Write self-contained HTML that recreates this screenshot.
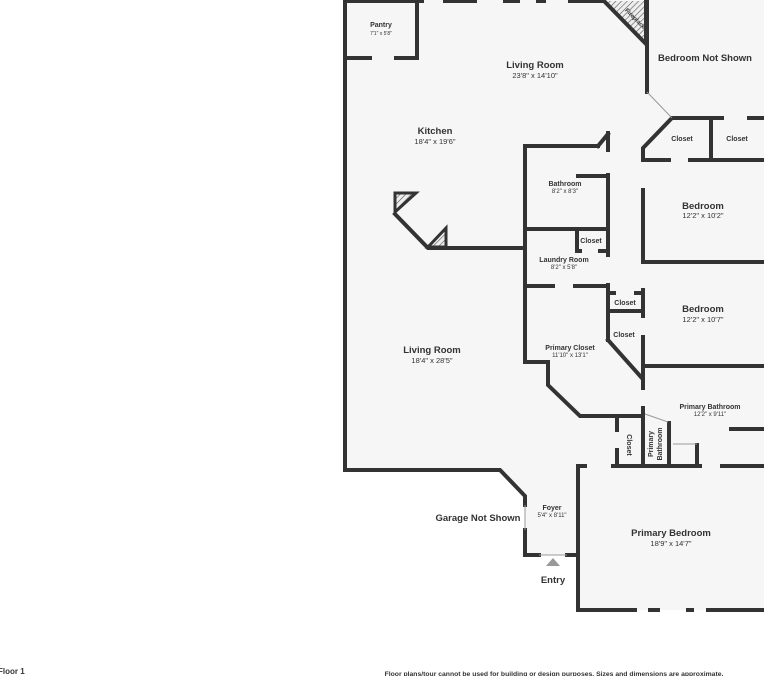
<!DOCTYPE html>
<html><head><meta charset="utf-8"><style>
html,body{margin:0;padding:0;background:#fff;width:764px;height:676px;overflow:hidden}
svg{display:block}
text{font-family:"Liberation Sans","DejaVu Sans",sans-serif;fill:#333;text-anchor:middle}
.t{font-size:9.5px;font-weight:bold}
.s{font-size:6px}
.m{font-size:7.5px}
</style></head><body>
<svg width="764" height="676" viewBox="0 0 764 676" xmlns="http://www.w3.org/2000/svg">
<defs><pattern id="h" width="4" height="4" patternUnits="userSpaceOnUse" patternTransform="rotate(45)"><rect width="4" height="4" fill="#eee"/><line x1="0" y1="0" x2="0" y2="4" stroke="#555" stroke-width="1.2"/></pattern></defs>
<polygon points="345,0 764,0 764,610 578,610 578,555 525,555 525,498 500,471 345,471" fill="#f6f6f6"/>
<polygon points="604,1 646,44 646,1" fill="url(#h)"/>
<g fill="none" stroke="#333" stroke-width="4" stroke-linecap="square">
<polyline points="345,0 345,470 500,470 525,496 525,505"/>
<line x1="345" y1="1" x2="422" y2="1"/>
<line x1="445" y1="1" x2="475" y2="1"/>
<line x1="505" y1="1" x2="518" y2="1"/>
<line x1="538" y1="1" x2="544" y2="1"/>
<line x1="570" y1="1" x2="604" y2="1"/>
<polyline points="417,0 417,58 396,58"/>
<line x1="345" y1="58" x2="370" y2="58"/>
<polyline points="604,1 646,44 646,1"/>
<polyline points="647,1 647,92"/>
<line x1="672" y1="118" x2="722" y2="118"/>
<line x1="749" y1="118" x2="764" y2="118"/>
<polyline points="671,119 643,148 643,160"/>
<line x1="711" y1="119" x2="711" y2="158"/>
<line x1="643" y1="160" x2="669" y2="160"/>
<line x1="690" y1="160" x2="764" y2="160"/>
<line x1="643" y1="190" x2="643" y2="262"/>
<line x1="643" y1="262" x2="764" y2="262"/>
<line x1="643" y1="290" x2="643" y2="316"/>
<line x1="643" y1="337" x2="643" y2="388"/>
<line x1="643" y1="366" x2="764" y2="366"/>
<line x1="643" y1="408" x2="643" y2="465"/>
<polyline points="525,228 525,146 598,146"/>
<polyline points="608,133 608,150"/>
<line x1="598" y1="146" x2="608" y2="134"/>
<line x1="608" y1="175" x2="608" y2="255"/>
<line x1="578" y1="176" x2="606" y2="176"/>
<line x1="525" y1="229" x2="607" y2="229"/>
<polyline points="577,231 577,251 580,251"/>
<line x1="600" y1="251" x2="606" y2="251"/>
<line x1="608" y1="285" x2="608" y2="340"/>
<line x1="525" y1="229" x2="525" y2="362"/>
<line x1="525" y1="286" x2="553" y2="286"/>
<line x1="575" y1="286" x2="607" y2="286"/>
<polygon points="395,193 416,193 395,212" fill="url(#h)" stroke-width="3"/>
<polyline points="395,214 428,248 525,248"/>
<polygon points="428,247 446,228 446,247" fill="url(#h)" stroke-width="3"/>
<polyline points="525,362 548,362 548,385 580,416 643,416"/>
<line x1="608" y1="340" x2="641" y2="377"/>
<line x1="612" y1="293" x2="614" y2="293"/>
<line x1="636" y1="293" x2="642" y2="293"/>
<line x1="608" y1="311" x2="642" y2="311"/>
<line x1="617" y1="416" x2="617" y2="430"/>
<line x1="617" y1="450" x2="617" y2="465"/>
<line x1="669" y1="423" x2="669" y2="465"/>
<polyline points="697,445 697,465"/>
<line x1="731" y1="429" x2="764" y2="429"/>
<line x1="578" y1="466" x2="585" y2="466"/>
<line x1="613" y1="466" x2="700" y2="466"/>
<line x1="722" y1="466" x2="764" y2="466"/>
<polyline points="578,466 578,610 635,610"/>
<line x1="650" y1="610" x2="658" y2="610"/>
<line x1="688" y1="610" x2="692" y2="610"/>
<line x1="708" y1="610" x2="764" y2="610"/>
<line x1="525" y1="530" x2="525" y2="555"/>
<line x1="525" y1="555" x2="539" y2="555"/>
<line x1="567" y1="555" x2="578" y2="555"/>
</g>
<g stroke="#999" stroke-width="1" fill="none">
<line x1="647" y1="92" x2="672" y2="118"/>
<line x1="645" y1="414" x2="668" y2="422"/>
<line x1="673" y1="444" x2="697" y2="444"/>
<line x1="539" y1="555" x2="567" y2="555"/>
<line x1="525" y1="505" x2="525" y2="530"/>
</g>
<polygon points="553,558 546,566 560,566" fill="#999"/>
<text class="t" x="381" y="27" style="font-size:7px">Pantry</text><text class="s" x="381" y="35" style="font-size:5px">7'1" x 5'8"</text>
<text class="t" x="535" y="68">Living Room</text><text class="m" x="535" y="78">23'8" x 14'10"</text>
<text class="t" x="705" y="61">Bedroom Not Shown</text>
<text class="t" x="634" y="20" style="font-size:6px" transform="rotate(45 634 20)">Fireplace</text>
<text class="t" x="435" y="134">Kitchen</text><text class="m" x="435" y="144">18'4" x 19'6"</text>
<text class="t" x="682" y="141" style="font-size:7px">Closet</text>
<text class="t" x="737" y="141" style="font-size:7px">Closet</text>
<text class="t" x="565" y="186" style="font-size:7px">Bathroom</text><text class="s" x="565" y="193">8'2" x 8'3"</text>
<text class="t" x="703" y="209">Bedroom</text><text class="m" x="703" y="218">12'2" x 10'2"</text>
<text class="t" x="591" y="243" style="font-size:7px">Closet</text>
<text class="t" x="564" y="262" style="font-size:7px">Laundry Room</text><text class="s" x="564" y="269">8'2" x 5'8"</text>
<text class="t" x="625" y="305" style="font-size:7px">Closet</text>
<text class="t" x="703" y="312">Bedroom</text><text class="m" x="703" y="322">12'2" x 10'7"</text>
<text class="t" x="624" y="337" style="font-size:7px">Closet</text>
<text class="t" x="570" y="350" style="font-size:7px">Primary Closet</text><text class="s" x="570" y="357">11'10" x 13'1"</text>
<text class="t" x="432" y="353">Living Room</text><text class="m" x="432" y="363">18'4" x 28'5"</text>
<text class="t" x="710" y="409" style="font-size:7px">Primary Bathroom</text><text class="s" x="710" y="416">12'2" x 9'11"</text>
<text class="t" x="627" y="445" style="font-size:7px" transform="rotate(90 627 445)">Closet</text>
<text class="t" x="653" y="444" style="font-size:7px" transform="rotate(-90 653 444)">Primary</text>
<text class="t" x="662" y="444" style="font-size:7px" transform="rotate(-90 662 444)">Bathroom</text>
<text class="t" x="552" y="510" style="font-size:7px">Foyer</text><text class="s" x="552" y="517">5'4" x 8'11"</text>
<text class="t" x="478" y="521">Garage Not Shown</text>
<text class="t" x="671" y="536">Primary Bedroom</text><text class="m" x="671" y="546">18'9" x 14'7"</text>
<text class="t" x="553" y="583">Entry</text>
<text class="t" x="-2" y="674" style="font-size:8px;text-anchor:start">Floor 1</text>
<text class="t" x="554" y="676" style="font-size:6.8px">Floor plans/tour cannot be used for building or design purposes. Sizes and dimensions are approximate.</text>
</svg>
</body></html>
